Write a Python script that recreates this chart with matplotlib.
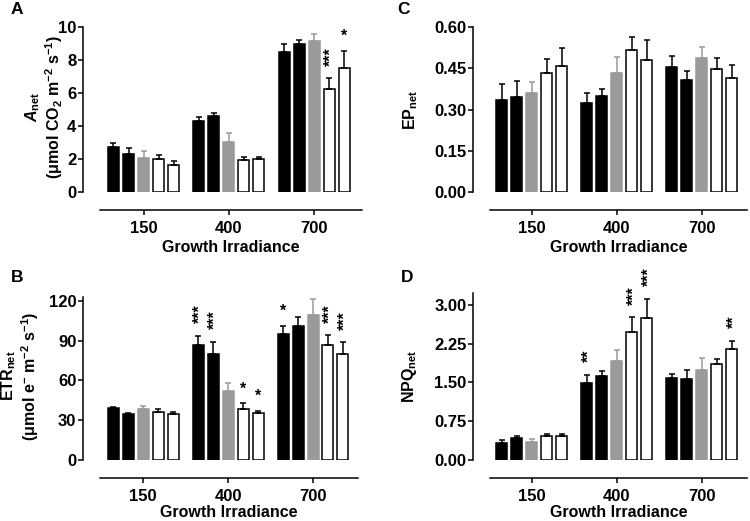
import matplotlib
matplotlib.use('Agg')
import matplotlib.pyplot as plt
import numpy as np
from matplotlib.ticker import FormatStrFormatter

plt.rcParams['font.family'] = 'Liberation Sans'
plt.rcParams['font.weight'] = 'bold'
plt.rcParams['mathtext.fontset'] = 'custom'
plt.rcParams['mathtext.rm'] = 'Liberation Sans:bold'
plt.rcParams['mathtext.it'] = 'Liberation Sans:italic:bold'
plt.rcParams['mathtext.bf'] = 'Liberation Sans:bold'

irradiance = ['150', '400', '700']

# rows = growth irradiance, columns = the five treatments
anet_mean = [[2.72, 2.31, 2.07, 2.03, 1.61],
             [4.33, 4.59, 3.06, 1.91, 2.01],
             [8.51, 8.99, 9.13, 6.22, 7.53]]
anet_sem = [[0.28, 0.33, 0.40, 0.24, 0.26],
            [0.24, 0.18, 0.50, 0.20, 0.14],
            [0.44, 0.25, 0.43, 0.66, 1.02]]
anet_sig = [['', '', '', '', ''],
            ['', '', '', '', ''],
            ['', '', '', '***', '*']]

ep_mean = [[0.335, 0.344, 0.359, 0.431, 0.460],
           [0.325, 0.350, 0.431, 0.516, 0.480],
           [0.453, 0.407, 0.489, 0.448, 0.414]]
ep_sem = [[0.056, 0.061, 0.041, 0.053, 0.064],
          [0.036, 0.023, 0.061, 0.048, 0.074],
          [0.042, 0.033, 0.039, 0.041, 0.049]]
ep_sig = [['', '', '', '', ''],
          ['', '', '', '', ''],
          ['', '', '', '', '']]

etr_mean = [[39.0, 34.5, 38.2, 36.5, 34.5],
            [86.8, 80.3, 52.1, 38.2, 35.7],
            [95.1, 101.1, 109.4, 86.8, 80.3]]
etr_sem = [[1.3, 0.7, 2.6, 2.2, 2.0],
           [6.8, 8.8, 6.3, 4.6, 1.3],
           [6.3, 7.1, 11.9, 7.3, 8.5]]
etr_sig = [['', '', '', '', ''],
           ['***', '***', '', '*', '*'],
           ['*', '', '', '***', '***']]

npq_mean = [[0.32, 0.43, 0.35, 0.46, 0.46],
            [1.48, 1.63, 1.92, 2.47, 2.75],
            [1.59, 1.57, 1.74, 1.85, 2.14]]
npq_sem = [[0.07, 0.04, 0.05, 0.04, 0.04],
           [0.17, 0.10, 0.20, 0.29, 0.37],
           [0.07, 0.18, 0.23, 0.10, 0.17]]
npq_sig = [['', '', '', '', ''],
           ['**', '', '', '***', '***'],
           ['', '', '', '', '**']]

fills = ['black', 'black', '#9a9a9a', 'white', 'white']
edges = ['black', 'black', '#9a9a9a', 'black', 'black']

W, H = 750, 521


def px_axes(l, r, t, b):
    return fig.add_axes([l / W, 1 - b / H, (r - l) / W, (b - t) / H])


def panel(ax, mean, sem, sig, ylim, yticks, fmt, ylabel, xlim, lab_xy, xpad):
    mean = np.array(mean)
    sem = np.array(sem)
    x = np.arange(len(irradiance))
    step = 0.176
    for i in range(5):
        xi = x + (i - 2) * step
        ax.bar(xi, mean[:, i], width=0.13, color=fills[i], edgecolor=edges[i],
               linewidth=1.1, yerr=[np.zeros(3), sem[:, i]], capsize=2.3,
               error_kw=dict(ecolor=edges[i], elinewidth=1.1, capthick=1.1),
               zorder=2)
        for g in range(3):
            s = sig[g][i]
            if not s:
                continue
            if len(s) > 1:
                ax.annotate(s, (xi[g], mean[g, i] + sem[g, i]), xytext=(1.5, 9),
                            textcoords='offset points', rotation=90,
                            ha='center', va='bottom', fontsize=11.5, fontweight='bold',
                            annotation_clip=False)
            else:
                ax.annotate(s, (xi[g], mean[g, i] + sem[g, i]), xytext=(0, 5),
                            textcoords='offset points',
                            ha='center', va='bottom', fontsize=11.5, fontweight='bold',
                            annotation_clip=False)
    ax.set_xlim(xlim)
    ax.set_ylim(ylim)
    ax.set_yticks(yticks)
    ax.yaxis.set_major_formatter(FormatStrFormatter(fmt))
    ax.set_xticks(x)
    ax.set_xticklabels(irradiance)
    ax.set_xlabel('Growth Irradiance', fontsize=11.5, fontweight='bold', labelpad=xpad)
    ax.set_ylabel(ylabel, fontsize=11.5, fontweight='bold', linespacing=1.1)
    ax.yaxis.set_label_coords(lab_xy[0] / W, 1 - lab_xy[1] / H, transform=fig.transFigure)
    for sp in ['top', 'right']:
        ax.spines[sp].set_visible(False)
    ax.spines['left'].set_position(('outward', 12))
    ax.spines['bottom'].set_position(('outward', 13))
    for sp in ['left', 'bottom']:
        ax.spines[sp].set_linewidth(1.1)
    ax.tick_params(width=1.1, length=3.5, labelsize=12)
    ax.tick_params(axis='x', pad=4.5)
    ax.tick_params(axis='y', pad=1.5)


fig = plt.figure(figsize=(7.5, 5.21), dpi=100)

axA = px_axes(100, 362, 27, 192)
panel(axA, anet_mean, anet_sem, anet_sig, (0, 10), [0, 2, 4, 6, 8, 10], '%d',
      '$A_{\\mathrm{net}}$\n(μmol CO$_2$ m$^{-2}$ s$^{-1}$)', (-0.51, 2.56), (65, 107), 2.5)

axC = px_axes(490, 747, 27, 192)
panel(axC, ep_mean, ep_sem, ep_sig, (0, 0.6), [0, 0.15, 0.30, 0.45, 0.60], '%.2f',
      'EP$_{\\mathrm{net}}$', (-0.49, 2.53), (420, 110), 2.5)

axB = px_axes(100, 358, 297, 460)
panel(axB, etr_mean, etr_sem, etr_sig, (0, 123), [0, 30, 60, 90, 120], '%d',
      'ETR$_{\\mathrm{net}}$\n(μmol e$^{-}$ m$^{-2}$ s$^{-1}$)', (-0.51, 2.53), (41, 376), 0.5)

axD = px_axes(490, 747, 293, 460)
panel(axD, npq_mean, npq_sem, npq_sig, (0, 3.23), [0, 0.75, 1.50, 2.25, 3.00], '%.2f',
      'NPQ$_{\\mathrm{net}}$', (-0.49, 2.53), (419, 376), 0.5)

for lab, xp, yp in [('A', 17, 9), ('C', 404, 9), ('B', 17, 278), ('D', 407, 278)]:
    fig.text(xp / W, 1 - yp / H, lab, fontsize=12.5, fontweight='bold', ha='center', va='center')

fig.savefig('out.png', dpi=100)
